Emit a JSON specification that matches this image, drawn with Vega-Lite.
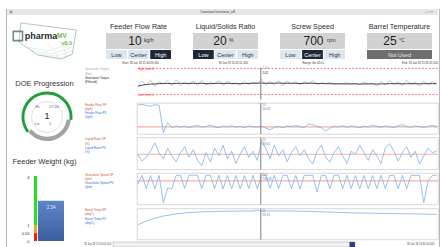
{
"$schema":"https://vega.github.io/schema/vega-lite/v6.json",
"background":"white","padding":0,"spacing":0,
"config":{"view":{"stroke":null},"font":"Liberation Sans","axis":{"labelFont":"Liberation Sans","minExtent":0}},
"datasets":{
"ts":[
{"t":"2018-06-18T15:31:00","tq":2.0,"tf":1.9,"ff":19.2,"lr":20,"gs":680,"bt":27.2},
{"t":"2018-06-18T15:31:04","tq":3.1,"tf":2.15,"ff":19.4,"lr":15.5,"gs":735,"bt":27.5},
{"t":"2018-06-18T15:31:08","tq":2.2,"tf":2.3,"ff":19.0,"lr":18,"gs":650,"bt":27.75},
{"t":"2018-06-18T15:31:12","tq":3.3,"tf":2.4,"ff":18.6,"lr":22,"gs":735,"bt":27.95},
{"t":"2018-06-18T15:31:16","tq":1.9,"tf":2.45,"ff":19.3,"lr":27.5,"gs":650,"bt":28.15},
{"t":"2018-06-18T15:31:20","tq":3.0,"tf":2.5,"ff":19.0,"lr":21,"gs":735,"bt":28.3},
{"t":"2018-06-18T15:31:24","tq":2.4,"tf":2.55,"ff":7.6,"lr":17,"gs":560,"bt":28.45},
{"t":"2018-06-18T15:31:28","tq":3.2,"tf":2.55,"ff":11.8,"lr":24,"gs":655,"bt":28.55},
{"t":"2018-06-18T15:31:32","tq":2.0,"tf":2.5,"ff":9.6,"lr":19,"gs":650,"bt":28.65},
{"t":"2018-06-18T15:31:36","tq":3.4,"tf":2.55,"ff":10.4,"lr":15,"gs":735,"bt":28.75},
{"t":"2018-06-18T15:31:40","tq":2.1,"tf":2.6,"ff":9.9,"lr":21,"gs":735,"bt":28.82},
{"t":"2018-06-18T15:31:44","tq":2.9,"tf":2.55,"ff":10.3,"lr":25,"gs":652,"bt":28.88},
{"t":"2018-06-18T15:31:48","tq":2.3,"tf":2.55,"ff":9.7,"lr":18,"gs":735,"bt":28.93},
{"t":"2018-06-18T15:31:52","tq":3.1,"tf":2.6,"ff":10.2,"lr":23,"gs":737,"bt":28.97},
{"t":"2018-06-18T15:31:56","tq":2.0,"tf":2.55,"ff":10.6,"lr":16,"gs":735,"bt":29.0},
{"t":"2018-06-18T15:32:00","tq":3.3,"tf":2.6,"ff":9.9,"lr":12.5,"gs":650,"bt":29.03},
{"t":"2018-06-18T15:32:04","tq":2.2,"tf":2.5,"ff":10.1,"lr":21,"gs":735,"bt":29.05},
{"t":"2018-06-18T15:32:08","tq":2.8,"tf":2.5,"ff":10.8,"lr":15,"gs":736,"bt":29.07},
{"t":"2018-06-18T15:32:12","tq":2.5,"tf":2.55,"ff":10.0,"lr":24,"gs":650,"bt":29.09},
{"t":"2018-06-18T15:32:16","tq":3.2,"tf":2.6,"ff":9.6,"lr":19,"gs":735,"bt":29.1},
{"t":"2018-06-18T15:32:20","tq":2.1,"tf":2.55,"ff":10.3,"lr":26,"gs":648,"bt":29.11},
{"t":"2018-06-18T15:32:24","tq":3.0,"tf":2.6,"ff":10.0,"lr":17,"gs":735,"bt":29.12},
{"t":"2018-06-18T15:32:28","tq":2.4,"tf":2.55,"ff":10.5,"lr":22,"gs":650,"bt":29.13},
{"t":"2018-06-18T15:32:32","tq":2.7,"tf":2.5,"ff":9.8,"lr":14,"gs":735,"bt":29.13},
{"t":"2018-06-18T15:32:36","tq":2.3,"tf":2.5,"ff":10.2,"lr":20,"gs":650,"bt":29.14},
{"t":"2018-06-18T15:32:40","tq":3.1,"tf":2.55,"ff":9.7,"lr":25,"gs":735,"bt":29.14},
{"t":"2018-06-18T15:32:44","tq":2.2,"tf":2.55,"ff":10.4,"lr":18,"gs":650,"bt":29.15},
{"t":"2018-06-18T15:32:48","tq":2.9,"tf":2.6,"ff":10.0,"lr":22,"gs":735,"bt":29.15},
{"t":"2018-06-18T15:32:52","tq":2.5,"tf":2.6,"ff":9.9,"lr":16,"gs":650,"bt":29.3},
{"t":"2018-06-18T15:32:56","tq":3.5,"tf":2.65,"ff":10.3,"lr":28.5,"gs":735,"bt":29.15},
{"t":"2018-06-18T15:33:00","tq":2.1,"tf":2.6,"ff":9.5,"lr":24,"gs":735,"bt":29.16},
{"t":"2018-06-18T15:33:04","tq":3.0,"tf":2.6,"ff":8.8,"lr":17,"gs":652,"bt":29.16},
{"t":"2018-06-18T15:33:08","tq":2.3,"tf":2.6,"ff":9.8,"lr":26,"gs":735,"bt":29.16},
{"t":"2018-06-18T15:33:12","tq":3.2,"tf":2.65,"ff":10.2,"lr":19,"gs":650,"bt":29.16},
{"t":"2018-06-18T15:33:16","tq":2.0,"tf":2.6,"ff":9.6,"lr":23,"gs":735,"bt":29.15},
{"t":"2018-06-18T15:33:20","tq":3.1,"tf":2.6,"ff":10.4,"lr":15,"gs":735,"bt":29.15},
{"t":"2018-06-18T15:33:24","tq":2.4,"tf":2.6,"ff":10.0,"lr":21,"gs":650,"bt":29.14},
{"t":"2018-06-18T15:33:28","tq":3.0,"tf":2.6,"ff":10.6,"lr":25,"gs":735,"bt":29.13},
{"t":"2018-06-18T15:33:32","tq":2.2,"tf":2.55,"ff":10.1,"lr":19,"gs":650,"bt":29.12},
{"t":"2018-06-18T15:33:36","tq":2.9,"tf":2.6,"ff":9.7,"lr":23,"gs":735,"bt":29.11},
{"t":"2018-06-18T15:33:40","tq":2.5,"tf":2.6,"ff":11.2,"lr":17,"gs":735,"bt":29.1},
{"t":"2018-06-18T15:33:44","tq":3.2,"tf":2.6,"ff":10.9,"lr":13.5,"gs":735,"bt":29.08},
{"t":"2018-06-18T15:33:48","tq":2.3,"tf":2.55,"ff":10.2,"lr":22,"gs":628,"bt":29.06},
{"t":"2018-06-18T15:33:52","tq":2.7,"tf":2.55,"ff":9.6,"lr":26,"gs":735,"bt":29.04},
{"t":"2018-06-18T15:33:56","tq":2.5,"tf":2.5,"ff":8.2,"lr":18,"gs":735,"bt":29.02},
{"t":"2018-06-18T15:34:00","tq":2.8,"tf":2.5,"ff":9.4,"lr":15,"gs":650,"bt":29.0},
{"t":"2018-06-18T15:34:04","tq":2.4,"tf":2.45,"ff":10.3,"lr":21,"gs":735,"bt":28.98},
{"t":"2018-06-18T15:34:08","tq":2.6,"tf":2.45,"ff":9.9,"lr":25,"gs":737,"bt":28.96},
{"t":"2018-06-18T15:34:12","tq":2.5,"tf":2.45,"ff":10.5,"lr":19,"gs":650,"bt":28.94},
{"t":"2018-06-18T15:34:16","tq":2.7,"tf":2.45,"ff":9.8,"lr":14,"gs":735,"bt":28.92},
{"t":"2018-06-18T15:34:20","tq":2.4,"tf":2.45,"ff":10.4,"lr":22,"gs":650,"bt":28.9},
{"t":"2018-06-18T15:34:24","tq":2.6,"tf":2.45,"ff":10.0,"lr":20,"gs":735,"bt":28.88},
{"t":"2018-06-18T15:34:28","tq":2.3,"tf":2.4,"ff":9.6,"lr":26,"gs":650,"bt":28.87},
{"t":"2018-06-18T15:34:32","tq":2.8,"tf":2.45,"ff":10.3,"lr":21,"gs":735,"bt":28.86},
{"t":"2018-06-18T15:34:36","tq":2.4,"tf":2.45,"ff":9.9,"lr":16,"gs":650,"bt":28.85},
{"t":"2018-06-18T15:34:40","tq":2.6,"tf":2.45,"ff":10.7,"lr":23,"gs":735,"bt":28.84},
{"t":"2018-06-18T15:34:44","tq":2.0,"tf":2.4,"ff":10.2,"lr":19,"gs":650,"bt":28.83},
{"t":"2018-06-18T15:34:48","tq":3.1,"tf":2.45,"ff":9.8,"lr":14,"gs":735,"bt":28.82},
{"t":"2018-06-18T15:34:52","tq":2.2,"tf":2.45,"ff":10.4,"lr":24,"gs":650,"bt":28.81},
{"t":"2018-06-18T15:34:56","tq":3.2,"tf":2.5,"ff":10.0,"lr":27,"gs":735,"bt":28.8},
{"t":"2018-06-18T15:35:00","tq":2.4,"tf":2.5,"ff":9.7,"lr":22,"gs":735,"bt":28.79},
{"t":"2018-06-18T15:35:04","tq":2.9,"tf":2.5,"ff":10.5,"lr":15.5,"gs":650,"bt":28.78},
{"t":"2018-06-18T15:35:08","tq":2.1,"tf":2.45,"ff":10.9,"lr":21,"gs":735,"bt":28.77},
{"t":"2018-06-18T15:35:12","tq":3.3,"tf":2.5,"ff":10.2,"lr":25,"gs":650,"bt":28.77},
{"t":"2018-06-18T15:35:16","tq":2.3,"tf":2.5,"ff":9.8,"lr":18,"gs":735,"bt":28.76},
{"t":"2018-06-18T15:35:20","tq":2.8,"tf":2.5,"ff":10.4,"lr":22,"gs":735,"bt":28.75},
{"t":"2018-06-18T15:35:24","tq":2.0,"tf":2.45,"ff":10.1,"lr":13.5,"gs":735,"bt":28.74},
{"t":"2018-06-18T15:35:28","tq":3.1,"tf":2.5,"ff":9.7,"lr":19,"gs":560,"bt":28.73},
{"t":"2018-06-18T15:35:32","tq":2.3,"tf":2.5,"ff":10.3,"lr":24,"gs":700,"bt":28.7},
{"t":"2018-06-18T15:35:36","tq":2.9,"tf":2.5,"ff":10.6,"lr":21,"gs":735,"bt":28.68},
{"t":"2018-06-18T15:35:40","tq":2.4,"tf":2.5,"ff":10.2,"lr":22,"gs":735,"bt":28.66}
],
"lab":[
{"p":1,"i":0,"s":"Granulator Torque","r":"raw"},{"p":1,"i":1,"s":"(Nm)","r":"raw"},{"p":1,"i":2,"s":"Granulator Torque","r":"filt"},{"p":1,"i":3,"s":"(Filtered)","r":"filt"},
{"p":2,"i":0,"s":"Feeder Flow SP","r":"sp"},{"p":2,"i":1,"s":"(kg/h)","r":"sp"},{"p":2,"i":2,"s":"Feeder Flow PV","r":"pv"},{"p":2,"i":3,"s":"(kg/h)","r":"pv"},
{"p":3,"i":0,"s":"Liquid Ratio SP","r":"sp"},{"p":3,"i":1,"s":"(%)","r":"sp"},{"p":3,"i":2,"s":"Liquid Ratio PV","r":"pv"},{"p":3,"i":3,"s":"(%)","r":"pv"},
{"p":4,"i":0,"s":"Granulator Speed SP","r":"sp"},{"p":4,"i":1,"s":"(rpm)","r":"sp"},{"p":4,"i":2,"s":"Granulator Speed PV","r":"pv"},{"p":4,"i":3,"s":"(rpm)","r":"pv"},
{"p":5,"i":0,"s":"Barrel Temp SP","r":"sp"},{"p":5,"i":1,"s":"(degC)","r":"sp"},{"p":5,"i":2,"s":"Barrel Temp PV","r":"pv"},{"p":5,"i":3,"s":"(degC)","r":"pv"}
],
"cur":[{"t":"2018-06-18T15:32:55.310","tq":"2.29","tqf":"2.62","ffs":"10","ffp":"10.03","lrs":"20","lrp":"24.61","gss":"700","gsp":"735.58","bts":"25","btp":"29.15"}],
"doe":[{"seg":"done","v":225},{"seg":"rest","v":135}]
},
"vconcat":[
{"width":441,"height":9,"data":{"values":[]},"mark":"point"},
{"spacing":0,"hconcat":[
{"width":6,"height":238,"data":{"values":[]},"mark":"point"},
{"width":1,"height":238,"view":{"fill":"#b8b8b8"},"data":{"values":[]},"mark":"point"},
{"spacing":0,"vconcat":[
 {"spacing":0,"bounds":"flush","hconcat":[
  {"width":8,"height":6,"view":{"fill":"#e6e6e6"},"data":{"values":[{"k":"icon"}]},"mark":{"type":"square","size":7,"color":"#5c7fbf"},"encoding":{}},
  {"width":405,"height":6,"view":{"fill":"#e6e6e6"},"data":{"values":[{"title":"ConstanOverview_v8"}]},"mark":{"type":"text","fontSize":3.7,"color":"#3a3a3a"},"encoding":{"text":{"field":"title"}}},
  {"width":18,"height":6,"view":{"fill":"#e6e6e6"},"data":{"values":[{"c":"–  ▫  ×"}]},"mark":{"type":"text","fontSize":4,"color":"#555555"},"encoding":{"text":{"field":"c"}}}
 ]},
 {"spacing":0,"hconcat":[
  {"width":99,"height":45,"layer":[
   {"data":{"values":[{"g":"a","o":0,"lx":20,"ly":32},{"g":"a","o":1,"lx":42,"ly":36},{"g":"a","o":2,"lx":67,"ly":28},{"g":"b","o":0,"lx":24,"ly":36},{"g":"b","o":1,"lx":46,"ly":39},{"g":"b","o":2,"lx":66,"ly":32},{"g":"c","o":0,"lx":29,"ly":39},{"g":"c","o":1,"lx":50,"ly":41},{"g":"c","o":2,"lx":66,"ly":36},{"g":"d","o":0,"lx":36,"ly":41},{"g":"d","o":1,"lx":55,"ly":43},{"g":"d","o":2,"lx":65,"ly":40},{"g":"e","o":0,"lx":40,"ly":28},{"g":"e","o":1,"lx":48,"ly":36},{"g":"e","o":2,"lx":52,"ly":43},{"g":"f","o":0,"lx":52,"ly":26},{"g":"f","o":1,"lx":58,"ly":34},{"g":"f","o":2,"lx":60,"ly":43}]},
    "mark":{"type":"line","color":"#b9d6cf","strokeWidth":0.4},
    "encoding":{"x":{"field":"lx","type":"quantitative","scale":{"domain":[0,99]},"axis":null},"y":{"field":"ly","type":"quantitative","scale":{"domain":[0,45],"reverse":true},"axis":null},"detail":{"field":"g"},"order":{"field":"o"}}},
   {"data":{"values":[{"o":0,"lx":14,"ly":8},{"o":1,"lx":70,"ly":15},{"o":2,"lx":66,"ly":39},{"o":3,"lx":55,"ly":44},{"o":4,"lx":31,"ly":40},{"o":5,"lx":12,"ly":27},{"o":6,"lx":14,"ly":8}]},
    "mark":{"type":"line","color":"#8c9c9c","strokeWidth":0.6},
    "encoding":{"x":{"field":"lx","type":"quantitative","scale":{"domain":[0,99]},"axis":null},"y":{"field":"ly","type":"quantitative","scale":{"domain":[0,45],"reverse":true},"axis":null},"order":{"field":"o"}}},
   {"data":{"values":[{"lx":11,"ly":21}]},"mark":{"type":"square","size":85,"filled":false,"color":"#2d5f55","strokeWidth":1.6},"encoding":{"x":{"field":"lx","type":"quantitative","axis":null},"y":{"field":"ly","type":"quantitative","axis":null}}},
   {"data":{"values":[{"lx":18,"ly":21,"s":"pharma"}]},"mark":{"type":"text","align":"left","fontSize":9,"fontWeight":"bold","color":"#1f2d2d"},"encoding":{"x":{"field":"lx","type":"quantitative","axis":null},"y":{"field":"ly","type":"quantitative","axis":null},"text":{"field":"s"}}},
   {"data":{"values":[{"lx":50.5,"ly":21,"s":"MV"}]},"mark":{"type":"text","align":"left","fontSize":6.5,"fontWeight":"bold","color":"#7ab648"},"encoding":{"x":{"field":"lx","type":"quantitative","axis":null},"y":{"field":"ly","type":"quantitative","axis":null},"text":{"field":"s"}}},
   {"data":{"values":[{"lx":55,"ly":28,"s":"v8.0"}]},"mark":{"type":"text","align":"left","fontSize":5.5,"fontWeight":"bold","color":"#7ab648"},"encoding":{"x":{"field":"lx","type":"quantitative","axis":null},"y":{"field":"ly","type":"quantitative","axis":null},"text":{"field":"s"}}}
  ]},
  {"spacing":22,"hconcat":[
   {"spacing":0,"bounds":"flush","vconcat":[
    {"width":65,"height":18,"data":{"values":[{"name":"Feeder Flow Rate"}]},"mark":{"type":"text","fontSize":7.2,"color":"#2b2b2b","dy":3},"encoding":{"text":{"field":"name"}}},
    {"width":65,"height":16,"view":{"fill":"#d2d2d2"},"data":{"values":[{"val":"10","unit":"kg/h"}]},"layer":[
     {"mark":{"type":"text","fontSize":12,"color":"#1e1e1e","dx":-3.5},"encoding":{"text":{"field":"val"}}},
     {"mark":{"type":"text","fontSize":5,"color":"#333333","align":"left","dx":5.5,"dy":-1.5},"encoding":{"text":{"field":"unit"}}}]},
    {"width":65,"height":1,"data":{"values":[]},"mark":"point"},
    {"width":65,"height":9,"data":{"values":[{"b":"Low","sel":false},{"b":"Center","sel":false},{"b":"High","sel":true}]},"encoding":{"x":{"field":"b","type":"nominal","sort":null,"scale":{"paddingInner":0.06,"paddingOuter":0},"axis":null}},"layer":[
     {"mark":"rect","encoding":{"color":{"condition":{"test":"datum.sel","value":"#1c2739"},"value":"#dce6f2"}}},
     {"mark":{"type":"text","fontSize":5.5},"encoding":{"text":{"field":"b"},"color":{"condition":{"test":"datum.sel","value":"#ffffff"},"value":"#333333"}}}]},
    {"width":65,"height":1,"data":{"values":[]},"mark":"point"}
   ]},
   {"spacing":0,"bounds":"flush","vconcat":[
    {"width":65,"height":18,"data":{"values":[{"name":"Liquid/Solids Ratio"}]},"mark":{"type":"text","fontSize":7.2,"color":"#2b2b2b","dy":3},"encoding":{"text":{"field":"name"}}},
    {"width":65,"height":16,"view":{"fill":"#d2d2d2"},"data":{"values":[{"val":"20","unit":"%"}]},"layer":[
     {"mark":{"type":"text","fontSize":12,"color":"#1e1e1e","dx":-5.5},"encoding":{"text":{"field":"val"}}},
     {"mark":{"type":"text","fontSize":5,"color":"#333333","align":"left","dx":3.5,"dy":-1.5},"encoding":{"text":{"field":"unit"}}}]},
    {"width":65,"height":1,"data":{"values":[]},"mark":"point"},
    {"width":65,"height":9,"data":{"values":[{"b":"Low","sel":true},{"b":"Center","sel":false},{"b":"High","sel":false}]},"encoding":{"x":{"field":"b","type":"nominal","sort":null,"scale":{"paddingInner":0.06,"paddingOuter":0},"axis":null}},"layer":[
     {"mark":"rect","encoding":{"color":{"condition":{"test":"datum.sel","value":"#1c2739"},"value":"#dce6f2"}}},
     {"mark":{"type":"text","fontSize":5.5},"encoding":{"text":{"field":"b"},"color":{"condition":{"test":"datum.sel","value":"#ffffff"},"value":"#333333"}}}]},
    {"width":65,"height":1,"data":{"values":[]},"mark":"point"}
   ]},
   {"spacing":0,"bounds":"flush","vconcat":[
    {"width":65,"height":18,"data":{"values":[{"name":"Screw Speed"}]},"mark":{"type":"text","fontSize":7.2,"color":"#2b2b2b","dy":3},"encoding":{"text":{"field":"name"}}},
    {"width":65,"height":16,"view":{"fill":"#d2d2d2"},"data":{"values":[{"val":"700","unit":"rpm"}]},"layer":[
     {"mark":{"type":"text","fontSize":12,"color":"#1e1e1e","dx":1},"encoding":{"text":{"field":"val"}}},
     {"mark":{"type":"text","fontSize":5,"color":"#333333","align":"left","dx":14.5,"dy":-1.5},"encoding":{"text":{"field":"unit"}}}]},
    {"width":65,"height":1,"data":{"values":[]},"mark":"point"},
    {"width":65,"height":9,"data":{"values":[{"b":"Low","sel":false},{"b":"Center","sel":true},{"b":"High","sel":false}]},"encoding":{"x":{"field":"b","type":"nominal","sort":null,"scale":{"paddingInner":0.06,"paddingOuter":0},"axis":null}},"layer":[
     {"mark":"rect","encoding":{"color":{"condition":{"test":"datum.sel","value":"#1c2739"},"value":"#dce6f2"}}},
     {"mark":{"type":"text","fontSize":5.5},"encoding":{"text":{"field":"b"},"color":{"condition":{"test":"datum.sel","value":"#ffffff"},"value":"#333333"}}}]},
    {"width":65,"height":1,"data":{"values":[]},"mark":"point"}
   ]},
   {"spacing":0,"bounds":"flush","vconcat":[
    {"width":65,"height":18,"data":{"values":[{"name":"Barrel Temperature"}]},"mark":{"type":"text","fontSize":7.2,"color":"#2b2b2b","dy":3},"encoding":{"text":{"field":"name"}}},
    {"width":65,"height":16,"view":{"fill":"#d2d2d2"},"data":{"values":[{"val":"25","unit":"°C"}]},"layer":[
     {"mark":{"type":"text","fontSize":12,"color":"#1e1e1e","dx":-9.5},"encoding":{"text":{"field":"val"}}},
     {"mark":{"type":"text","fontSize":5,"color":"#333333","align":"left","dx":-0.5,"dy":-1.5},"encoding":{"text":{"field":"unit"}}}]},
    {"width":65,"height":1,"data":{"values":[]},"mark":"point"},
    {"width":65,"height":9,"view":{"fill":"#6e6e6e"},"data":{"values":[{"s":"Not Used"}]},"mark":{"type":"text","fontSize":5.5,"color":"#e4e4e4"},"encoding":{"text":{"field":"s"}}},
    {"width":65,"height":1,"data":{"values":[]},"mark":"point"}
   ]}
  ]},
  {"width":6,"height":45,"data":{"values":[]},"mark":"point"}
 ]},
 {"spacing":0,"hconcat":[
  {"spacing":0,"vconcat":[
   {"width":75,"height":16,"data":{"values":[]},"mark":"point"},
   {"width":75,"height":14,"data":{"values":[{"s":"DOE Progression"}]},"mark":{"type":"text","fontSize":7.5,"color":"#333333"},"encoding":{"text":{"field":"s"}}},
   {"spacing":0,"bounds":"flush","hconcat":[
    {"width":5,"height":50,"data":{"values":[]},"mark":"point"},
    {"width":70,"height":50,"layer":[
     {"data":{"name":"doe"},"mark":{"type":"arc","radius":25.5,"radius2":22.6},"encoding":{"theta":{"field":"v","type":"quantitative","stack":true,"scale":{"range":[-2.234,4.049]}},"order":{"field":"seg","type":"ordinal"},"color":{"condition":{"test":"datum.seg=='done'","value":"#1f9e3a"},"value":"transparent"}}},
     {"data":{"name":"doe"},"mark":{"type":"arc","radius":24,"radius2":19.8},"encoding":{"theta":{"field":"v","type":"quantitative","stack":true,"scale":{"range":[-2.234,4.049]}},"order":{"field":"seg","type":"ordinal"},"color":{"condition":{"test":"datum.seg=='rest'","value":"#a3a3a3"},"value":"transparent"}}},
     {"data":{"values":[{"cur":1,"hi":"27.00","lo":"1"}]},"layer":[
      {"mark":{"type":"arc","radius":15.5,"theta":0,"theta2":6.2832,"fill":"white","stroke":"#cdcdcd","strokeWidth":0.6},"encoding":{}},
      {"mark":{"type":"text","fontSize":4,"color":"#666666","dx":-9.5,"dy":-10},"encoding":{"text":{"value":"Hi"}}},
      {"mark":{"type":"text","fontSize":4,"color":"#666666","dx":7,"dy":-10},"encoding":{"text":{"field":"hi"}}},
      {"mark":{"type":"text","fontSize":9,"color":"#222222","dy":-1.5},"encoding":{"text":{"field":"cur"}}},
      {"mark":{"type":"text","fontSize":4,"color":"#666666","dx":-10,"dy":7},"encoding":{"text":{"value":"Lo"}}},
      {"mark":{"type":"text","fontSize":4,"color":"#666666","dx":3,"dy":7},"encoding":{"text":{"field":"lo"}}}
     ]}
    ]}
   ]},
   {"width":75,"height":12,"data":{"values":[]},"mark":"point"},
   {"width":75,"height":14,"data":{"values":[{"s":"Feeder Weight (kg)"}]},"mark":{"type":"text","fontSize":7.5,"color":"#333333"},"encoding":{"text":{"field":"s"}}},
   {"width":75,"height":6,"data":{"values":[]},"mark":"point"},
   {"spacing":0,"bounds":"flush","hconcat":[
    {"width":27,"height":65,"data":{"values":[]},"mark":"point"},
    {"width":3,"height":65,"data":{"values":[{"lo":0,"hi":0.5,"z":"low"},{"lo":0.5,"hi":1,"z":"warn"},{"lo":1,"hi":4.1,"z":"ok"}]},"mark":"rect","encoding":{"y":{"field":"lo","type":"quantitative","scale":{"domain":[0,4.1],"zero":false,"nice":false},"axis":{"values":[0,0.5,1,4],"labelExpr":"datum.value==0.5?'0.50':datum.label","domain":false,"ticks":false,"grid":false,"labelFontSize":4,"labelPadding":5,"labelColor":"#333333","title":null}},"y2":{"field":"hi"},"color":{"condition":[{"test":"datum.z=='low'","value":"#f01c1c"},{"test":"datum.z=='warn'","value":"#f5a01e"}],"value":"#22e022"}}},
    {"width":1,"height":65,"data":{"values":[]},"mark":"point"},
    {"width":26,"height":65,"data":{"values":[{"w":2.54}]},"layer":[
     {"mark":{"type":"rect","color":{"gradient":"linear","x1":0,"y1":0,"x2":0,"y2":1,"stops":[{"offset":0,"color":"#5e86c6"},{"offset":1,"color":"#3b5f9e"}]}},"encoding":{"y":{"field":"w","type":"quantitative","scale":{"domain":[0,4.1],"zero":false,"nice":false},"axis":null},"y2":{"datum":0}}},
     {"mark":{"type":"text","fontSize":4.5,"color":"#e2e8f3","dy":7.5},"encoding":{"y":{"field":"w","type":"quantitative","axis":null},"text":{"field":"w","type":"quantitative","format":".2f"}}}
    ]}
   ]}
  ]},
  {"spacing":0,"vconcat":[
   {"spacing":0,"hconcat":[
    {"spacing":3.5,"bounds":"flush","vconcat":[
     {"width":40,"height":3,"data":{"values":[]},"mark":"point"},
     {"width":40,"height":32,"data":{"name":"lab"},"transform":[{"filter":"datum.p==1"}],"mark":{"type":"text","align":"left","baseline":"middle","fontSize":3,"dx":3},"encoding":{"x":{"datum":0,"type":"quantitative","scale":{"domain":[0,1]},"axis":null},"y":{"field":"i","type":"quantitative","scale":{"domain":[-0.35,7.1],"reverse":true},"axis":null},"text":{"field":"s"},"color":{"condition":[{"test":"datum.r=='sp'","value":"#c85a3c"},{"test":"datum.r=='pv'","value":"#2e72d2"},{"test":"datum.r=='raw'","value":"#a9a9a9"}],"value":"#1e1e1e"}}},
     {"width":40,"height":31,"data":{"name":"lab"},"transform":[{"filter":"datum.p==2"}],"mark":{"type":"text","align":"left","baseline":"middle","fontSize":3,"dx":3},"encoding":{"x":{"datum":0,"type":"quantitative","scale":{"domain":[0,1]},"axis":null},"y":{"field":"i","type":"quantitative","scale":{"domain":[-0.35,7.1],"reverse":true},"axis":null},"text":{"field":"s"},"color":{"condition":[{"test":"datum.r=='sp'","value":"#c85a3c"},{"test":"datum.r=='pv'","value":"#2e72d2"},{"test":"datum.r=='raw'","value":"#a9a9a9"}],"value":"#1e1e1e"}}},
     {"width":40,"height":32,"data":{"name":"lab"},"transform":[{"filter":"datum.p==3"}],"mark":{"type":"text","align":"left","baseline":"middle","fontSize":3,"dx":3},"encoding":{"x":{"datum":0,"type":"quantitative","scale":{"domain":[0,1]},"axis":null},"y":{"field":"i","type":"quantitative","scale":{"domain":[-0.35,7.1],"reverse":true},"axis":null},"text":{"field":"s"},"color":{"condition":[{"test":"datum.r=='sp'","value":"#c85a3c"},{"test":"datum.r=='pv'","value":"#2e72d2"},{"test":"datum.r=='raw'","value":"#a9a9a9"}],"value":"#1e1e1e"}}},
     {"width":40,"height":31.5,"data":{"name":"lab"},"transform":[{"filter":"datum.p==4"}],"mark":{"type":"text","align":"left","baseline":"middle","fontSize":3,"dx":3},"encoding":{"x":{"datum":0,"type":"quantitative","scale":{"domain":[0,1]},"axis":null},"y":{"field":"i","type":"quantitative","scale":{"domain":[-0.35,7.1],"reverse":true},"axis":null},"text":{"field":"s"},"color":{"condition":[{"test":"datum.r=='sp'","value":"#c85a3c"},{"test":"datum.r=='pv'","value":"#2e72d2"},{"test":"datum.r=='raw'","value":"#a9a9a9"}],"value":"#1e1e1e"}}},
     {"width":40,"height":31,"data":{"name":"lab"},"transform":[{"filter":"datum.p==5"}],"mark":{"type":"text","align":"left","baseline":"middle","fontSize":3,"dx":3},"encoding":{"x":{"datum":0,"type":"quantitative","scale":{"domain":[0,1]},"axis":null},"y":{"field":"i","type":"quantitative","scale":{"domain":[-0.35,7.1],"reverse":true},"axis":null},"text":{"field":"s"},"color":{"condition":[{"test":"datum.r=='sp'","value":"#c85a3c"},{"test":"datum.r=='pv'","value":"#2e72d2"},{"test":"datum.r=='raw'","value":"#a9a9a9"}],"value":"#1e1e1e"}}}
    ]},
    {"spacing":3.5,"bounds":"flush","vconcat":[
     {"width":301,"height":3,"layer":[
      {"data":{"values":[{"t":"2018-06-18T15:30:59.310","s":"Start: 18 Jun 18 15:30:59.310"}]},"mark":{"type":"text","align":"left","dx":-15,"fontSize":2.8,"color":"#333333"},"encoding":{"x":{"field":"t","type":"temporal","scale":{"domain":[{"year":2018,"month":6,"date":18,"hours":15,"minutes":30,"seconds":59,"milliseconds":310},{"year":2018,"month":6,"date":18,"hours":15,"minutes":35,"seconds":41,"milliseconds":320}],"nice":false},"axis":null},"text":{"field":"s"}}},
      {"data":{"values":[{"t":"2018-06-18T15:32:55.310","s":"18 Jun 18 15:32:55.310"}]},"mark":{"type":"text","align":"right","dx":-13,"fontSize":2.8,"color":"#333333"},"encoding":{"x":{"field":"t","type":"temporal","axis":null},"text":{"field":"s"}}},
      {"data":{"values":[{"t":"2018-06-18T15:33:20.315","s":"Range: 4m 42.0s"}]},"mark":{"type":"text","align":"left","dx":15,"fontSize":2.8,"color":"#333333"},"encoding":{"x":{"field":"t","type":"temporal","axis":null},"text":{"field":"s"}}},
      {"data":{"values":[{"t":"2018-06-18T15:35:41.320","s":"End: 18 Jun 18 15:35:41.320"}]},"mark":{"type":"text","align":"right","fontSize":2.8,"color":"#333333"},"encoding":{"x":{"field":"t","type":"temporal","axis":null},"text":{"field":"s"}}}
     ]},
     {"width":301,"height":32,"layer":[
      {"data":{"values":[{"lim":6,"lab":"High Limit:6"},{"lim":0,"lab":"Low Limit:0"}]},"mark":{"type":"rule","color":"#ff4a4a","strokeWidth":0.7,"strokeDash":[2,1.5]},"encoding":{"y":{"field":"lim","type":"quantitative","scale":{"domain":[-1.15,6.23],"zero":false,"nice":false},"axis":{"values":[0,2,4,6],"domain":false,"ticks":false,"grid":false,"labelFontSize":3.2,"labelPadding":2,"labelColor":"#555555","title":null}}}},
      {"data":{"name":"ts"},"mark":{"type":"line","color":"#b0b0b0","strokeWidth":0.7},"encoding":{"x":{"field":"t","type":"temporal","scale":{"domain":[{"year":2018,"month":6,"date":18,"hours":15,"minutes":30,"seconds":59,"milliseconds":310},{"year":2018,"month":6,"date":18,"hours":15,"minutes":35,"seconds":41,"milliseconds":320}],"nice":false},"axis":{"orient":"bottom","labels":false,"ticks":false,"domain":false,"grid":true,"gridColor":"#d4d4d4","gridWidth":0.7,"tickCount":{"interval":"minute","step":1},"title":null}},"y":{"field":"tq","type":"quantitative","axis":null}}},
      {"data":{"name":"ts"},"mark":{"type":"line","color":"#333333","strokeWidth":0.9},"encoding":{"x":{"field":"t","type":"temporal","axis":null},"y":{"field":"tf","type":"quantitative","axis":null}}},
      {"data":{"values":[{"lim":6,"lab":"High Limit:6"},{"lim":0,"lab":"Low Limit:0"}]},"mark":{"type":"text","align":"left","dx":1,"fontSize":3,"color":"#ff3030"},"encoding":{"x":{"datum":{"year":2018,"month":6,"date":18,"hours":15,"minutes":30,"seconds":59,"milliseconds":310},"type":"temporal","axis":null},"y":{"field":"lim","type":"quantitative","axis":null},"text":{"field":"lab"}}},
      {"data":{"name":"cur"},"mark":{"type":"rule","color":"#6e6e6e","strokeWidth":0.9},"encoding":{"x":{"field":"t","type":"temporal","axis":null}}},
      {"data":{"name":"cur"},"mark":{"type":"text","align":"left","dx":1.5,"fontSize":3,"color":"#999999"},"encoding":{"x":{"field":"t","type":"temporal","axis":null},"y":{"datum":6.1,"type":"quantitative","axis":null},"text":{"field":"tq"}}},
      {"data":{"name":"cur"},"mark":{"type":"text","align":"left","dx":1.5,"fontSize":3,"color":"#222222"},"encoding":{"x":{"field":"t","type":"temporal","axis":null},"y":{"datum":4.95,"type":"quantitative","axis":null},"text":{"field":"tqf"}}}
     ]},
     {"width":301,"height":31,"view":{"stroke":"#c6c6c6","strokeWidth":0.7},"layer":[
      {"data":{"values":[{"sp":10}]},"mark":{"type":"rule","color":"#efb3a5","strokeWidth":1.1},"encoding":{"y":{"field":"sp","type":"quantitative","scale":{"domain":[7,20],"zero":false,"nice":false},"axis":{"values":[10],"domain":false,"ticks":false,"grid":false,"labelFontSize":3.2,"labelPadding":2,"labelColor":"#555555","title":null}}}},
      {"data":{"name":"ts"},"mark":{"type":"line","color":"#7db0ea","strokeWidth":0.8},"encoding":{"x":{"field":"t","type":"temporal","scale":{"domain":[{"year":2018,"month":6,"date":18,"hours":15,"minutes":30,"seconds":59,"milliseconds":310},{"year":2018,"month":6,"date":18,"hours":15,"minutes":35,"seconds":41,"milliseconds":320}],"nice":false},"axis":{"orient":"bottom","labels":false,"ticks":false,"domain":false,"grid":true,"gridColor":"#d4d4d4","gridWidth":0.7,"tickCount":{"interval":"minute","step":1},"title":null}},"y":{"field":"ff","type":"quantitative","axis":null}}},
      {"data":{"name":"cur"},"mark":{"type":"rule","color":"#6e6e6e","strokeWidth":0.9},"encoding":{"x":{"field":"t","type":"temporal","axis":null}}},
      {"data":{"name":"cur"},"mark":{"type":"text","align":"left","dx":1.5,"fontSize":3,"color":"#d9603f"},"encoding":{"x":{"field":"t","type":"temporal","axis":null},"y":{"datum":19.37,"type":"quantitative","axis":null},"text":{"field":"ffs"}}},
      {"data":{"name":"cur"},"mark":{"type":"text","align":"left","dx":1.5,"fontSize":3,"color":"#3b7ddd"},"encoding":{"x":{"field":"t","type":"temporal","axis":null},"y":{"datum":17.7,"type":"quantitative","axis":null},"text":{"field":"ffp"}}}
     ]},
     {"width":301,"height":32,"view":{"stroke":"#c6c6c6","strokeWidth":0.7},"layer":[
      {"data":{"values":[{"sp":20}]},"mark":{"type":"rule","color":"#efb3a5","strokeWidth":1.1},"encoding":{"y":{"field":"sp","type":"quantitative","scale":{"domain":[10,31],"zero":false,"nice":false},"axis":{"values":[20],"domain":false,"ticks":false,"grid":false,"labelFontSize":3.2,"labelPadding":2,"labelColor":"#555555","title":null}}}},
      {"data":{"name":"ts"},"mark":{"type":"line","color":"#7db0ea","strokeWidth":0.8},"encoding":{"x":{"field":"t","type":"temporal","scale":{"domain":[{"year":2018,"month":6,"date":18,"hours":15,"minutes":30,"seconds":59,"milliseconds":310},{"year":2018,"month":6,"date":18,"hours":15,"minutes":35,"seconds":41,"milliseconds":320}],"nice":false},"axis":{"orient":"bottom","labels":false,"ticks":false,"domain":false,"grid":true,"gridColor":"#d4d4d4","gridWidth":0.7,"tickCount":{"interval":"minute","step":1},"title":null}},"y":{"field":"lr","type":"quantitative","axis":null}}},
      {"data":{"name":"cur"},"mark":{"type":"rule","color":"#6e6e6e","strokeWidth":0.9},"encoding":{"x":{"field":"t","type":"temporal","axis":null}}},
      {"data":{"name":"cur"},"mark":{"type":"text","align":"left","dx":1.5,"fontSize":3,"color":"#d9603f"},"encoding":{"x":{"field":"t","type":"temporal","axis":null},"y":{"datum":29.36,"type":"quantitative","axis":null},"text":{"field":"lrs"}}},
      {"data":{"name":"cur"},"mark":{"type":"text","align":"left","dx":1.5,"fontSize":3,"color":"#3b7ddd"},"encoding":{"x":{"field":"t","type":"temporal","axis":null},"y":{"datum":26.73,"type":"quantitative","axis":null},"text":{"field":"lrp"}}}
     ]},
     {"width":301,"height":31.5,"view":{"stroke":"#c6c6c6","strokeWidth":0.7},"layer":[
      {"data":{"values":[{"sp":700}]},"mark":{"type":"rule","color":"#efb3a5","strokeWidth":1.1},"encoding":{"y":{"field":"sp","type":"quantitative","scale":{"domain":[550,750],"zero":false,"nice":false},"axis":{"values":[700],"domain":false,"ticks":false,"grid":false,"labelFontSize":3.2,"labelPadding":2,"labelColor":"#555555","title":null}}}},
      {"data":{"name":"ts"},"mark":{"type":"line","color":"#7db0ea","strokeWidth":0.8},"encoding":{"x":{"field":"t","type":"temporal","scale":{"domain":[{"year":2018,"month":6,"date":18,"hours":15,"minutes":30,"seconds":59,"milliseconds":310},{"year":2018,"month":6,"date":18,"hours":15,"minutes":35,"seconds":41,"milliseconds":320}],"nice":false},"axis":{"orient":"bottom","labels":false,"ticks":false,"domain":false,"grid":true,"gridColor":"#d4d4d4","gridWidth":0.7,"tickCount":{"interval":"minute","step":1},"title":null}},"y":{"field":"gs","type":"quantitative","axis":null}}},
      {"data":{"name":"cur"},"mark":{"type":"rule","color":"#6e6e6e","strokeWidth":0.9},"encoding":{"x":{"field":"t","type":"temporal","axis":null}}},
      {"data":{"name":"cur"},"mark":{"type":"text","align":"left","dx":1.5,"fontSize":3,"color":"#d9603f"},"encoding":{"x":{"field":"t","type":"temporal","axis":null},"y":{"datum":737.3,"type":"quantitative","axis":null},"text":{"field":"gss"}}},
      {"data":{"name":"cur"},"mark":{"type":"text","align":"left","dx":1.5,"fontSize":3,"color":"#3b7ddd"},"encoding":{"x":{"field":"t","type":"temporal","axis":null},"y":{"datum":711.9,"type":"quantitative","axis":null},"text":{"field":"gsp"}}}
     ]},
     {"width":301,"height":31,"view":{"stroke":"#c6c6c6","strokeWidth":0.7},"layer":[
      {"data":{"name":"ts"},"mark":{"type":"line","color":"#7db0ea","strokeWidth":0.8},"encoding":{"x":{"field":"t","type":"temporal","scale":{"domain":[{"year":2018,"month":6,"date":18,"hours":15,"minutes":30,"seconds":59,"milliseconds":310},{"year":2018,"month":6,"date":18,"hours":15,"minutes":35,"seconds":41,"milliseconds":320}],"nice":false},"axis":{"orient":"bottom","format":"%d %b %y %H:%M:%S","labelFontSize":3.2,"labelPadding":1,"labelColor":"#333333","ticks":false,"domain":false,"grid":true,"gridColor":"#d4d4d4","gridWidth":0.7,"tickCount":{"interval":"minute","step":1},"title":null}},"y":{"field":"bt","type":"quantitative","scale":{"domain":[25.18,29.5],"zero":false,"nice":false},"axis":{"values":[25.6,26.4,27.2,28,28.8],"labelExpr":"datum.value==28?'28':format(datum.value,'.2f')","domain":false,"ticks":false,"grid":true,"gridColor":"#e2e2e2","gridWidth":0.6,"labelFontSize":3.2,"labelPadding":2,"labelColor":"#444444","title":null}}}},
      {"data":{"name":"cur"},"mark":{"type":"rule","color":"#6e6e6e","strokeWidth":0.9},"encoding":{"x":{"field":"t","type":"temporal","axis":null}}},
      {"data":{"name":"cur"},"mark":{"type":"text","align":"left","dx":1.5,"fontSize":3,"color":"#d9603f"},"encoding":{"x":{"field":"t","type":"temporal","axis":null},"y":{"datum":29.22,"type":"quantitative","axis":null},"text":{"field":"bts"}}},
      {"data":{"name":"cur"},"mark":{"type":"text","align":"left","dx":1.5,"fontSize":3,"color":"#3b7ddd"},"encoding":{"x":{"field":"t","type":"temporal","axis":null},"y":{"datum":28.66,"type":"quantitative","axis":null},"text":{"field":"btp"}}}
     ]}
    ]}
   ]},
   {"spacing":0,"bounds":"flush","hconcat":[
    {"width":31,"height":5,"data":{"values":[{"s":"18 Jun 18 12:10:01.010"}]},"mark":{"type":"text","fontSize":2.6,"color":"#333333"},"encoding":{"text":{"field":"s"}}},
    {"width":242,"height":5,"view":{"fill":"#f2f2f2","stroke":"#a0a0a0","strokeWidth":0.5},"data":{"values":[{"a":"2018-06-18T15:30:59.310","b":"2018-06-18T15:35:41.320"}]},"mark":{"type":"rect","color":"#2f3b8f"},"encoding":{"x":{"field":"a","type":"temporal","scale":{"domain":[{"year":2018,"month":6,"date":18,"hours":12,"minutes":10,"seconds":1,"milliseconds":10},{"year":2018,"month":6,"date":18,"hours":15,"minutes":35,"seconds":41,"milliseconds":320}],"nice":false},"axis":null},"x2":{"field":"b"}}},
    {"width":48,"height":5,"data":{"values":[]},"mark":"point"},
    {"width":35,"height":5,"data":{"values":[{"s":"18 Jun 18 15:35:41.320"}]},"mark":{"type":"text","fontSize":2.6,"color":"#333333"},"encoding":{"text":{"field":"s"}}}
   ]}
  ]}
 ]}
]},
{"width":1,"height":238,"view":{"fill":"#b8b8b8"},"data":{"values":[]},"mark":"point"},
{"width":2,"height":238,"data":{"values":[]},"mark":"point"}
]}
]
}
